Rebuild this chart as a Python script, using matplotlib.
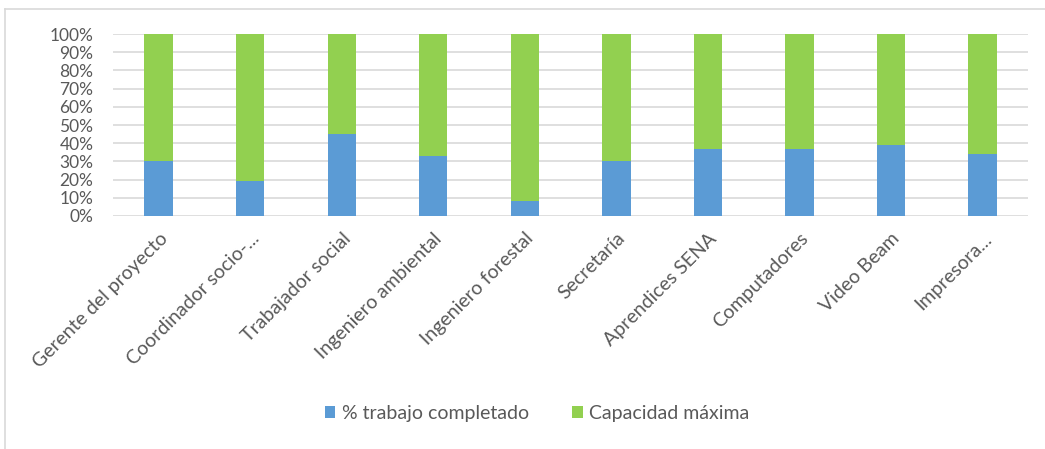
import matplotlib
matplotlib.use("Agg")
import matplotlib.pyplot as plt
from matplotlib.lines import Line2D
from matplotlib.ticker import PercentFormatter

categories = ["Gerente del proyecto", "Coordinador socio-...", "Trabajador social",
              "Ingeniero ambiental", "Ingeniero forestal", "Secretaría",
              "Aprendices SENA", "Computadores", "Video Beam", "Impresora..."]
completado = [30, 19, 45, 33, 8, 30, 37, 37, 39, 34]
capacidad = [100 - v for v in completado]
series_names = ["% trabajo completado", "Capacidad máxima"]
blue = "#5B9BD5"
green = "#92D050"
text_color = "#595959"

plt.rcParams["font.family"] = ["Lato", "DejaVu Sans"]

fig = plt.figure(figsize=(10.45, 4.49), dpi=100)
ax = fig.add_axes([0.108, 0.519, 0.876, 0.405])

x = range(len(categories))
ax.bar(x, completado, width=0.31, color=blue, label=series_names[0], zorder=3)
ax.bar(x, capacidad, width=0.31, bottom=completado, color=green,
       label=series_names[1], zorder=3)

ax.set_xlim(-0.5, len(categories) - 0.5)
ax.set_ylim(0, 100)
ax.set_yticks(range(0, 101, 10))
ax.yaxis.set_major_formatter(PercentFormatter(decimals=0))
ax.grid(axis="y", color="#D9D9D9", linewidth=1.2, zorder=0)
for s in ax.spines.values():
    s.set_visible(False)
ax.tick_params(axis="both", length=0, colors=text_color)
ax.tick_params(axis="y", pad=14, labelsize=12.5)
ax.set_xticks(list(x))
ax.set_xticklabels(categories, rotation=45, ha="right", va="top",
                   rotation_mode="anchor")
ax.tick_params(axis="x", pad=10, labelsize=14)

leg = fig.legend(loc="center", bbox_to_anchor=(0.514, 0.08), ncol=2, frameon=False,
                 fontsize=14, handlelength=0.55, handleheight=0.55,
                 columnspacing=2.2, handletextpad=0.35)
for t in leg.get_texts():
    t.set_color(text_color)

# chart border (top and left edges)
fig.add_artist(Line2D([5 / 1045, 5 / 1045], [0, 1 - 9 / 449], transform=fig.transFigure,
                      color="#D9D9D9", linewidth=1.2))
fig.add_artist(Line2D([5 / 1045, 1], [1 - 9 / 449, 1 - 9 / 449], transform=fig.transFigure,
                      color="#D9D9D9", linewidth=1.2))

fig.savefig("out.png", dpi=100)
